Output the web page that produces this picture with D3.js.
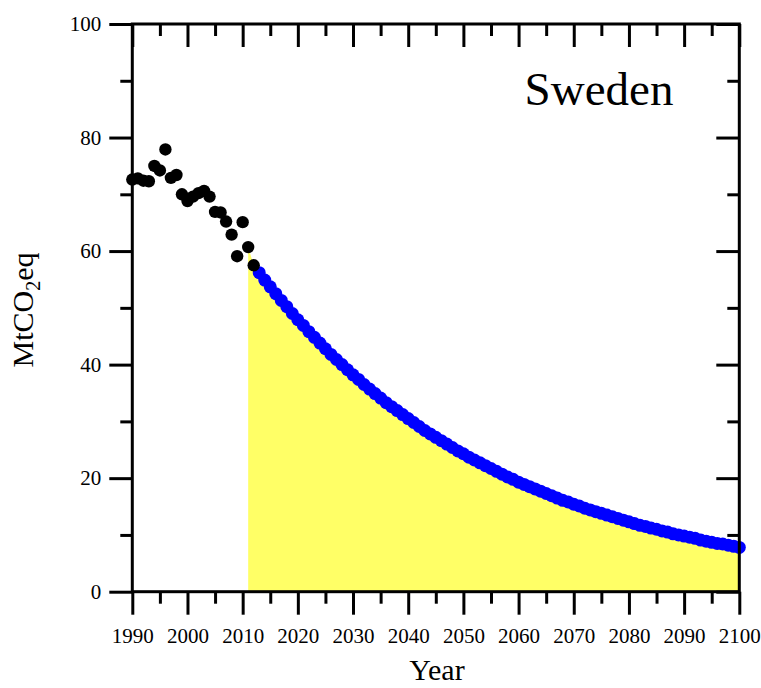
<!DOCTYPE html>
<html>
<head>
<meta charset="utf-8">
<script src="https://cdn.jsdelivr.net/npm/d3@7"></script>
<style>
  html, body { margin: 0; padding: 0; background: #fff; }
  svg { display: block; }
  text { font-family: "Liberation Serif", "Times New Roman", serif; fill: #000; }
</style>
</head>
<body>
<svg id="chart" width="761" height="688"></svg>
<script>
// Historical emissions (black dots)
const histYears = [1990,1991,1992,1993,1994,1995,1996,1997,1998,1999,2000,2001,2002,2003,2004,2005,2006,2007,2008,2009,2010,2011,2012];
const histValues = [72.6,72.8,72.4,72.3,75.0,74.2,77.9,72.9,73.4,70.0,68.8,69.6,70.2,70.6,69.6,66.9,66.8,65.2,62.9,59.1,65.1,60.7,57.5];

// Projected pathway (blue dots), 2013..2100
const projStart = 2013;
const projValues = [56.2,54.9,53.7,52.5,51.3,50.2,49.0,47.9,46.9,45.8,
  44.8,43.8,42.8,41.8,40.9,40.0,39.1,38.2,37.4,36.5,
  35.7,34.9,34.1,33.3,32.6,31.9,31.2,30.5,29.8,29.1,
  28.4,27.8,27.2,26.6,26.0,25.4,24.8,24.3,23.7,23.2,
  22.7,22.2,21.7,21.2,20.7,20.2,19.8,19.3,18.9,18.5,
  18.1,17.7,17.3,16.9,16.5,16.1,15.8,15.4,15.1,14.7,
  14.4,14.1,13.8,13.5,13.2,12.9,12.6,12.3,12.0,11.7,
  11.5,11.2,11.0,10.7,10.5,10.2,10.0,9.8,9.6,9.4,
  9.1,8.9,8.7,8.5,8.4,8.2,8.0,7.8];
const projYears = projValues.map((v, i) => projStart + i);

const xMajorTicks = [1990,2000,2010,2020,2030,2040,2050,2060,2070,2080,2090,2100];
const xMinorTicks = [1995,2005,2015,2025,2035,2045,2055,2065,2075,2085,2095];
const yMajorTicks = [0,20,40,60,80,100];
const yMinorTicks = [10,30,50,70,90];
const countryLabel = "Sweden";
const xTitle = "Year";

const svg = d3.select("#chart");
const pL = 132.3, pR = 739.3, pT = 24, pB = 591.7;
const x = d3.scaleLinear().domain([1990, 2100]).range([pL, pR]);
const y = d3.scaleLinear().domain([0, 100]).range([pB, pT]);

// Yellow area under the pathway from 2011 onward
const areaData = histYears.map((yr, i) => ({yr, v: histValues[i]})).filter(d => d.yr >= 2011)
  .concat(projYears.map((yr, i) => ({yr, v: projValues[i]})));
svg.append("path")
  .datum(areaData)
  .attr("fill", "#ffff66")
  .attr("d", d3.area().x(d => x(d.yr)).y0(y(0)).y1(d => y(d.v)));

// Blue projected dots
svg.append("g").selectAll("circle")
  .data(projYears.map((yr, i) => ({yr, v: projValues[i]})))
  .join("circle")
  .attr("cx", d => x(d.yr)).attr("cy", d => y(d.v)).attr("r", 6.5)
  .attr("fill", "#0000ff");

// Black historical dots
svg.append("g").selectAll("circle")
  .data(histYears.map((yr, i) => ({yr, v: histValues[i]})))
  .join("circle")
  .attr("cx", d => x(d.yr)).attr("cy", d => y(d.v)).attr("r", 6.2)
  .attr("fill", "#000");

// Axes
function styleAxis(g) {
  g.selectAll(".domain").remove();
  g.selectAll("line").attr("stroke", "#000").attr("stroke-width", 3);
}
const major = 23, minor = 12;

// bottom major with labels
svg.append("g").attr("transform", `translate(0,${pB})`)
  .call(d3.axisBottom(x).tickValues(xMajorTicks).tickSize(major).tickPadding(13).tickFormat(d3.format("d")))
  .call(styleAxis)
  .call(g => g.selectAll("text").attr("font-size", 21).attr("font-family", "Liberation Serif"));
svg.append("g").attr("transform", `translate(0,${pB})`)
  .call(d3.axisBottom(x).tickValues(xMinorTicks).tickSize(minor).tickFormat(""))
  .call(styleAxis);
// top (inward)
svg.append("g").attr("transform", `translate(0,${pT})`)
  .call(d3.axisBottom(x).tickValues(xMajorTicks).tickSize(major).tickFormat(""))
  .call(styleAxis);
svg.append("g").attr("transform", `translate(0,${pT})`)
  .call(d3.axisBottom(x).tickValues(xMinorTicks).tickSize(minor).tickFormat(""))
  .call(styleAxis);
// left (outward) with labels
svg.append("g").attr("transform", `translate(${pL},0)`)
  .call(d3.axisLeft(y).tickValues(yMajorTicks).tickSize(major).tickPadding(8).tickFormat(d3.format("d")))
  .call(styleAxis)
  .call(g => g.selectAll("text").attr("font-size", 21).attr("font-family", "Liberation Serif"));
svg.append("g").attr("transform", `translate(${pL},0)`)
  .call(d3.axisLeft(y).tickValues(yMinorTicks).tickSize(minor).tickFormat(""))
  .call(styleAxis);
// right (inward)
svg.append("g").attr("transform", `translate(${pR},0)`)
  .call(d3.axisLeft(y).tickValues(yMajorTicks).tickSize(major).tickFormat(""))
  .call(styleAxis);
svg.append("g").attr("transform", `translate(${pR},0)`)
  .call(d3.axisLeft(y).tickValues(yMinorTicks).tickSize(minor).tickFormat(""))
  .call(styleAxis);

// Frame
svg.append("rect")
  .attr("x", pL).attr("y", pT).attr("width", pR - pL).attr("height", pB - pT)
  .attr("fill", "none").attr("stroke", "#000").attr("stroke-width", 3);

// Country label
svg.append("text").attr("x", 599).attr("y", 105).attr("text-anchor", "middle")
  .attr("font-size", 47).text(countryLabel);

// Axis titles
svg.append("text").attr("x", 437).attr("y", 680).attr("text-anchor", "middle")
  .attr("font-size", 30).text(xTitle);

const yt = svg.append("text").attr("transform", "translate(33,310) rotate(-90)")
  .attr("text-anchor", "middle").attr("font-size", 30);
yt.append("tspan").text("MtCO");
yt.append("tspan").attr("font-size", 20).attr("dy", 7).text("2");
yt.append("tspan").attr("dy", -7).text("eq");
</script>
</body>
</html>
